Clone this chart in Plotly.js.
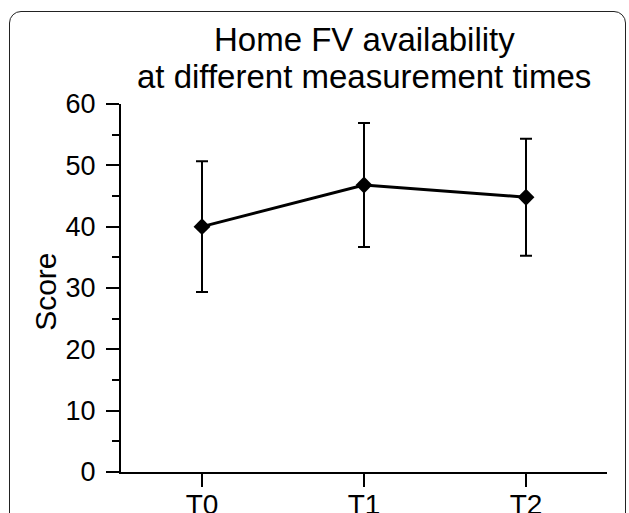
<!DOCTYPE html>
<html>
<head>
<meta charset="utf-8">
<script src="https://cdn.plot.ly/plotly-3.0.1.min.js"></script>
<style>
  html, body { margin: 0; padding: 0; background: #ffffff; }
  #wrap { position: relative; width: 629px; height: 513px; overflow: hidden; }
  #frame { position: absolute; left: 9px; top: 11px; width: 617px; height: 600px;
           border: 1.5px solid #222; border-radius: 12px; box-sizing: border-box; }
  #chart { position: absolute; left: 0; top: 0; width: 629px; height: 513px; }
</style>
</head>
<body>
<div id="wrap">
  <div id="frame"></div>
  <div id="chart"></div>
</div>
<script>
const categories = ["T0", "T1", "T2"];
const meanScores = [40.0, 46.8, 44.8];
const sdScores = [10.65, 10.1, 9.55];
const yTickValues = [0, 10, 20, 30, 40, 50, 60];
const titleLines = ["Home FV availability", "at different measurement times"];
const yTitle = "Score";

const FONT = "Liberation Sans, Arial, Helvetica, sans-serif";

const trace = {
  type: "scatter",
  mode: "lines+markers",
  x: categories,
  y: meanScores,
  line: { color: "#000000", width: 3 },
  marker: { symbol: "diamond", size: 13, color: "#000000" },
  error_y: { type: "data", array: sdScores, visible: true, color: "#000000", thickness: 2, width: 6 },
  hoverinfo: "skip",
  cliponaxis: false
};

const layout = {
  width: 629,
  height: 513,
  margin: { l: 121, r: 22, t: 104, b: 41, pad: 0 },
  paper_bgcolor: "rgba(0,0,0,0)",
  plot_bgcolor: "rgba(0,0,0,0)",
  showlegend: false,
  font: { family: FONT, color: "#000000" },
  xaxis: {
    type: "category",
    range: [-0.5, 2.5],
    showgrid: false,
    zeroline: false,
    showline: true,
    linecolor: "#000000",
    linewidth: 2,
    ticks: "outside",
    ticklen: 13,
    tickwidth: 2,
    tickcolor: "#000000",
    ticklabelstandoff: -7,
    tickfont: { family: FONT, size: 28, color: "#000000" },
    fixedrange: true
  },
  yaxis: {
    range: [0, 60],
    tickvals: yTickValues,
    ticktext: yTickValues.map(String),
    showgrid: false,
    zeroline: false,
    showline: true,
    linecolor: "#000000",
    linewidth: 2,
    ticks: "outside",
    ticklen: 13,
    tickwidth: 2,
    tickcolor: "#000000",
    ticklabelstandoff: 5,
    tickfont: { family: FONT, size: 27, color: "#000000" },
    minor: { dtick: 5, ticks: "outside", ticklen: 7, tickwidth: 2, tickcolor: "#000000", showgrid: false },
    fixedrange: true
  },
  annotations: [
    { text: titleLines[0], xref: "paper", yref: "paper", x: 0.5, y: 1.176, xanchor: "center", yanchor: "middle",
      showarrow: false, font: { family: FONT, size: 33, color: "#000000" } },
    { text: titleLines[1], xref: "paper", yref: "paper", x: 0.5, y: 1.075, xanchor: "center", yanchor: "middle",
      showarrow: false, font: { family: FONT, size: 33, color: "#000000" } },
    { text: yTitle, xref: "paper", yref: "paper", x: -0.154, y: 0.49, xanchor: "center", yanchor: "middle",
      textangle: -90, showarrow: false, font: { family: FONT, size: 30, color: "#000000" } }
  ]
};

Plotly.newPlot("chart", [trace], layout, { displayModeBar: false, staticPlot: true });
</script>
</body>
</html>
